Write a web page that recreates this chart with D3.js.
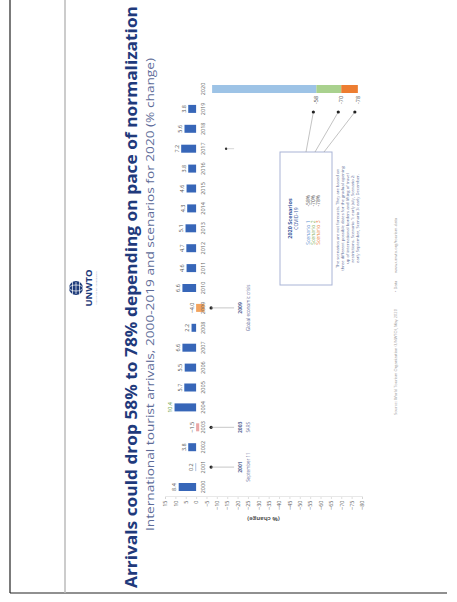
<!DOCTYPE html>
<html>
<head>
<meta charset="utf-8">
<script src="https://cdn.jsdelivr.net/npm/d3@7"></script>
<style>
  html, body { margin: 0; padding: 0; background: #ffffff; }
  svg { display: block; }
</style>
</head>
<body>
<svg id="chart" width="457" height="602"></svg>
<script>
// ---------- data ----------
const years = ["2000","2001","2002","2003","2004","2005","2006","2007","2008","2009",
               "2010","2011","2012","2013","2014","2015","2016","2017","2018","2019"];
const changes = [8.4, 0.2, 3.8, -1.5, 10.4, 5.7, 5.5, 6.6, 2.2, -4.0,
                 6.6, 4.6, 4.7, 5.1, 4.3, 4.6, 3.8, 7.2, 5.6, 3.8];
const scenarioYear = "2020";
const scenarioNames = ["Scenario 1", "Scenario 2", "Scenario 3"];
const scenarioValues = [-58, -70, -78];
const scenarioColors = ["#9dc3e6", "#a9d18e", "#ed7d31"];
const scenarioTextColors = ["#5b8fd0", "#7fb05a", "#ed7d31"];
const yTicks = d3.range(-80, 16, 5);
const events = [
  { year: "2001", title: "2001", text: "September 11" },
  { year: "2003", title: "2003", text: "SARS" },
  { year: "2009", title: "2009", text: "Global economic crisis" }
];
const titleText = "Arrivals could drop 58% to 78% depending on pace of normalization";
const subtitleText = "International tourist arrivals, 2000-2019 and scenarios for 2020 (% change)";
const noteLines = [
  "The scenarios are not forecasts. They are based on",
  "three different possible dates for the gradual opening",
  "up of international borders and lifting of travel",
  "restrictions. Scenario 1: early July, Scenario 2:",
  "early September, Scenario 3: early December."
];
const sourceParts = ["Source: World Tourism Organization (UNWTO), May 2020", "• Data", "www.unwto.org/tourism-data"];

// ---------- page frame (image coordinates) ----------
const svg = d3.select("#chart");
svg.append("line").attr("x1", 10).attr("x2", 10).attr("y1", 0).attr("y2", 593)
   .attr("stroke", "#222").attr("stroke-width", 1.2);
svg.append("line").attr("x1", 10).attr("x2", 447).attr("y1", 593).attr("y2", 593)
   .attr("stroke", "#222").attr("stroke-width", 1.2);
svg.append("line").attr("x1", 65).attr("x2", 65).attr("y1", 0).attr("y2", 593)
   .attr("stroke", "#bbbbbb").attr("stroke-width", 1.5);

// ---------- slide (rotated -90 degrees) ----------
const slide = svg.append("g").attr("transform", "translate(0,602) rotate(-90)");

const font = "'Open Sans', 'Noto Sans', sans-serif";

// logo
const logo = slide.append("g");
logo.append("circle").attr("cx", 314).attr("cy", 76).attr("r", 7)
    .attr("fill", "#1f3c7a");
[-3.5, 0, 3.5].forEach(o => {
  logo.append("line").attr("x1", 308).attr("x2", 320).attr("y1", 76 + o).attr("y2", 76 + o)
      .attr("stroke", "#ffffff").attr("stroke-width", 0.7);
});
logo.append("ellipse").attr("cx", 314).attr("cy", 76).attr("rx", 3).attr("ry", 7)
    .attr("fill", "none").attr("stroke", "#ffffff").attr("stroke-width", 0.7);
logo.append("text").attr("x", 314).attr("y", 92).attr("text-anchor", "middle")
    .attr("font-family", font).attr("font-weight", "bold").attr("font-size", 9.5)
    .attr("fill", "#1f3c7a").text("UNWTO");
logo.append("text").attr("x", 314).attr("y", 97).attr("text-anchor", "middle")
    .attr("font-family", font).attr("font-size", 2.5)
    .attr("fill", "#8a96b8").text("World Tourism Organization");

// title + subtitle
slide.append("text").attr("x", 14).attr("y", 137)
  .attr("font-family", font).attr("font-weight", "bold").attr("font-size", 15.5)
  .attr("fill", "#1f3a7c").attr("textLength", 582).attr("lengthAdjust", "spacingAndGlyphs")
  .text(titleText);
slide.append("text").attr("x", 71).attr("y", 154)
  .attr("font-family", font).attr("font-size", 11.5)
  .attr("fill", "#5d6b98").attr("textLength", 473).attr("lengthAdjust", "spacingAndGlyphs")
  .text(subtitleText);

// scales
const allYears = years.concat([scenarioYear]);
const x = d3.scalePoint().domain(allYears).range([115, 513]);
const y = d3.scaleLinear().domain([-80, 15]).range([362, 165]);
const barW = 8;

// value axis
const axis = slide.append("g").attr("transform", "translate(105,0)")
  .call(d3.axisLeft(y).tickValues(yTicks).tickSize(2).tickPadding(1.5));
axis.select(".domain").attr("stroke", "#d8d8d8").attr("stroke-width", 0.6);
axis.selectAll(".tick line").attr("stroke", "#c8c8c8").attr("stroke-width", 0.6);
axis.selectAll(".tick text").attr("font-family", font).attr("font-size", 5.5).attr("fill", "#666");
slide.append("text")
  .attr("transform", `translate(85,${(y(-80) + y(15)) / 2}) rotate(-90)`)
  .attr("text-anchor", "middle").attr("font-family", font).attr("font-size", 6)
  .attr("font-weight", "bold").attr("fill", "#555").text("(% change)");

// bars 2000-2019
const data = years.map((yr, i) => ({ year: yr, v: changes[i] }));
slide.selectAll("rect.bar").data(data).join("rect").attr("class", "bar")
  .attr("x", d => x(d.year) - barW / 2).attr("width", barW)
  .attr("y", d => Math.min(y(d.v), y(0)))
  .attr("height", d => Math.abs(y(d.v) - y(0)))
  .attr("fill", d => d.v < 0 ? (d.year === "2009" ? "#f2a35e" : "#eaa7a7") : "#3766b8");

// value labels
slide.selectAll("text.val").data(data).join("text").attr("class", "val")
  .attr("x", d => x(d.year)).attr("y", d => Math.min(y(d.v), y(0)) - 2.5)
  .attr("text-anchor", "middle").attr("font-family", font).attr("font-size", 5.5)
  .attr("fill", d => d.year === "2004" ? "#5e9a3c" : "#555")
  .text(d => d3.format(".1f")(d.v));

// year labels
slide.selectAll("text.yr").data(allYears).join("text").attr("class", "yr")
  .attr("x", d => x(d)).attr("y", y(0) + 9)
  .attr("text-anchor", "middle").attr("font-family", font).attr("font-size", 5.5)
  .attr("fill", "#666").text(d => d);

// 2020 stacked scenario bar
const gap = 16; // space left for the year label
const segs = scenarioValues.map((v, i) => ({ from: i === 0 ? 0 : scenarioValues[i - 1], to: v, c: scenarioColors[i] }));
slide.selectAll("rect.scn").data(segs).join("rect").attr("class", "scn")
  .attr("x", x(scenarioYear) - barW / 2).attr("width", barW)
  .attr("y", d => (d.from === 0 ? y(0) + gap : y(d.from)))
  .attr("height", d => y(d.to) - (d.from === 0 ? y(0) + gap : y(d.from)))
  .attr("fill", d => d.c);
slide.selectAll("text.scnval").data(scenarioValues).join("text").attr("class", "scnval")
  .attr("x", x(scenarioYear) - 11).attr("y", d => y(d) + 2)
  .attr("text-anchor", "middle").attr("font-family", font).attr("font-size", 5.5)
  .attr("fill", "#444").text(d => d);

// scenario box
const box = { x0: 317, x1: 450, y0: 280, y1: 332 };
slide.append("rect").attr("x", box.x0).attr("y", box.y0)
  .attr("width", box.x1 - box.x0).attr("height", box.y1 - box.y0)
  .attr("fill", "#ffffff").attr("stroke", "#a9b4d6").attr("stroke-width", 1);
// connectors
scenarioValues.forEach((v, i) => {
  const dx = x(scenarioYear) - 23, dy = y(v) - 3;
  slide.append("line").attr("x1", dx).attr("y1", dy)
    .attr("x2", box.x1).attr("y2", box.y0 + 26 + i * 9)
    .attr("stroke", "#9a9a9a").attr("stroke-width", 0.6);
  slide.append("circle").attr("cx", dx).attr("cy", dy).attr("r", 1.6).attr("fill", "#222");
});
const bcx = (box.x0 + box.x1) / 2;
slide.append("text").attr("x", bcx).attr("y", box.y0 + 12).attr("text-anchor", "middle")
  .attr("font-family", font).attr("font-weight", "bold").attr("font-size", 5.5)
  .attr("fill", "#3b5aa0").text("2020 Scenarios");
slide.append("text").attr("x", bcx).attr("y", box.y0 + 18).attr("text-anchor", "middle")
  .attr("font-family", font).attr("font-size", 5)
  .attr("fill", "#3b5aa0").text("COVID-19");
scenarioNames.forEach((n, i) => {
  slide.append("text").attr("x", bcx - 2).attr("y", box.y0 + 30 + i * 5.2).attr("text-anchor", "end")
    .attr("font-family", font).attr("font-size", 5).attr("fill", scenarioTextColors[i]).text(n);
  slide.append("text").attr("x", bcx + 12).attr("y", box.y0 + 30 + i * 5.2).attr("text-anchor", "start")
    .attr("font-family", font).attr("font-size", 5).attr("fill", "#555").text(scenarioValues[i] + "%");
});
// notes below box
slide.selectAll("text.note").data(noteLines).join("text").attr("class", "note")
  .attr("x", bcx).attr("y", (d, i) => box.y1 + 7 + i * 5)
  .attr("text-anchor", "middle").attr("font-family", font).attr("font-size", 4.2)
  .attr("fill", "#5d6b98").text(d => d);

// event annotations
events.forEach(ev => {
  const cx = x(ev.year);
  slide.append("circle").attr("cx", cx).attr("cy", y(0) + 15).attr("r", 1.6).attr("fill", "#222");
  slide.append("line").attr("x1", cx).attr("x2", cx).attr("y1", y(0) + 15).attr("y2", y(0) + 38)
    .attr("stroke", "#a0a0a0").attr("stroke-width", 0.6);
  slide.append("text").attr("x", cx).attr("y", y(0) + 46).attr("text-anchor", "middle")
    .attr("font-family", font).attr("font-weight", "bold").attr("font-size", 5)
    .attr("fill", "#5d6b98").text(ev.title);
  slide.append("text").attr("x", cx).attr("y", y(0) + 54).attr("text-anchor", "middle")
    .attr("font-family", font).attr("font-size", 4.5)
    .attr("fill", "#5d6b98").text(ev.text);
});
// small marker near 2017
slide.append("circle").attr("cx", x("2017")).attr("cy", y(0) + 30).attr("r", 1.2).attr("fill", "#333");
slide.append("line").attr("x1", x("2017")).attr("x2", x("2017")).attr("y1", y(0) + 31).attr("y2", y(0) + 38)
  .attr("stroke", "#bbb").attr("stroke-width", 0.6);

// source line
let sxPos = [187, 310, 329];
sourceParts.forEach((s, i) => {
  slide.append("text").attr("x", sxPos[i]).attr("y", 397)
    .attr("font-family", font).attr("font-size", 4).attr("fill", "#9a9a9a").text(s);
});
</script>
</body>
</html>
